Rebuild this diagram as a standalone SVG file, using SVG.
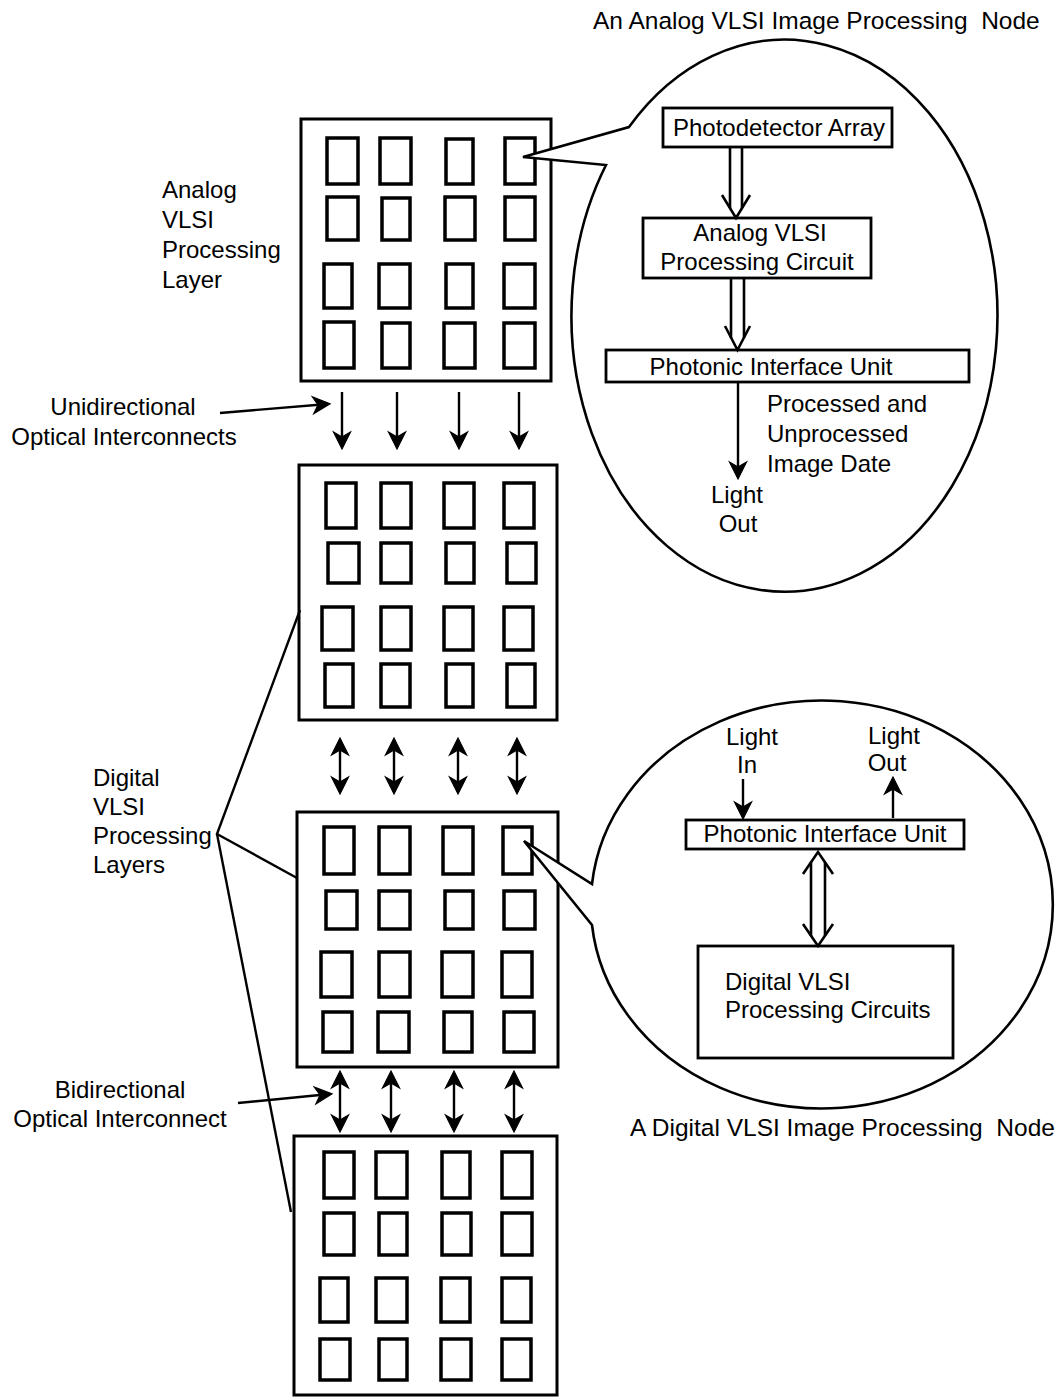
<svg xmlns="http://www.w3.org/2000/svg" width="1057" height="1398" viewBox="0 0 1057 1398">
<style>
text{font-family:"Liberation Sans",Arial,sans-serif;font-size:24px;fill:#000}
.c{text-anchor:middle}
.t{font-size:24.5px}
.layer{fill:none;stroke:#000;stroke-width:3}
.cell{fill:none;stroke:#000;stroke-width:3.5}
.box{fill:none;stroke:#000;stroke-width:2.8}
.bub{fill:#fff;stroke:#000;stroke-width:2.6;stroke-linejoin:miter}
.ln{fill:none;stroke:#000;stroke-width:2.4}
.arr{fill:none;stroke:#000;stroke-width:2.4;marker-end:url(#ah)}
.bi{fill:none;stroke:#000;stroke-width:2.4;marker-start:url(#ah);marker-end:url(#ah)}
.hol{fill:none;stroke:#000;stroke-width:2.6}
</style>
<defs>
<marker id="ah" markerUnits="userSpaceOnUse" viewBox="-19 -11 23 22" refX="0" refY="0" markerWidth="23" markerHeight="22" orient="auto-start-reverse">
<path d="M2,0 L-15,-8.5 L-10,0 L-15,8.5 Z" fill="#000" stroke="#000" stroke-width="1.2" stroke-linejoin="miter"/>
</marker>
</defs>

<g id="analog-layer">
<rect class="layer" x="301" y="119" width="250" height="262"/>
<rect class="cell" x="327" y="138" width="31" height="46"/><rect class="cell" x="380" y="138" width="31" height="46"/><rect class="cell" x="446" y="139" width="27" height="45"/><rect class="cell" x="505" y="138" width="30" height="46"/>
<rect class="cell" x="327" y="197" width="31" height="43"/><rect class="cell" x="382" y="198" width="28" height="42"/><rect class="cell" x="445" y="197" width="30" height="43"/><rect class="cell" x="505" y="197" width="30" height="43"/>
<rect class="cell" x="324" y="264" width="28" height="44"/><rect class="cell" x="379" y="264" width="31" height="44"/><rect class="cell" x="446" y="264" width="27" height="44"/><rect class="cell" x="504" y="264" width="31" height="44"/>
<rect class="cell" x="324" y="322" width="30" height="46"/><rect class="cell" x="382" y="323" width="28" height="45"/><rect class="cell" x="444" y="323" width="31" height="45"/><rect class="cell" x="504" y="323" width="31" height="45"/>
</g>

<g id="digital-layer-1">
<rect class="layer" x="299" y="465" width="258" height="255"/>
<rect class="cell" x="326" y="483" width="30" height="45"/><rect class="cell" x="381" y="483" width="30" height="45"/><rect class="cell" x="444" y="483" width="30" height="45"/><rect class="cell" x="504" y="483" width="30" height="45"/>
<rect class="cell" x="328" y="543" width="31" height="40"/><rect class="cell" x="381" y="543" width="30" height="40"/><rect class="cell" x="446" y="543" width="28" height="40"/><rect class="cell" x="507" y="543" width="29" height="40"/>
<rect class="cell" x="322" y="607" width="31" height="43"/><rect class="cell" x="381" y="607" width="30" height="43"/><rect class="cell" x="444" y="607" width="29" height="43"/><rect class="cell" x="504" y="607" width="29" height="43"/>
<rect class="cell" x="325" y="664" width="28" height="43"/><rect class="cell" x="381" y="664" width="29" height="43"/><rect class="cell" x="446" y="664" width="27" height="43"/><rect class="cell" x="507" y="664" width="28" height="43"/>
</g>

<g id="digital-layer-2">
<rect class="layer" x="297" y="812" width="261" height="255"/>
<rect class="cell" x="324" y="827" width="30" height="47"/><rect class="cell" x="379" y="827" width="31" height="47"/><rect class="cell" x="443" y="827" width="30" height="47"/><rect class="cell" x="503" y="827" width="29" height="47"/>
<rect class="cell" x="326" y="891" width="31" height="38"/><rect class="cell" x="379" y="891" width="31" height="38"/><rect class="cell" x="445" y="891" width="28" height="38"/><rect class="cell" x="504" y="891" width="31" height="38"/>
<rect class="cell" x="321" y="952" width="31" height="45"/><rect class="cell" x="379" y="952" width="31" height="45"/><rect class="cell" x="442" y="952" width="31" height="45"/><rect class="cell" x="502" y="952" width="30" height="45"/>
<rect class="cell" x="323" y="1012" width="29" height="40"/><rect class="cell" x="378" y="1012" width="31" height="40"/><rect class="cell" x="444" y="1012" width="28" height="40"/><rect class="cell" x="504" y="1012" width="30" height="40"/>
</g>

<g id="digital-layer-3">
<rect class="layer" x="294" y="1136" width="263" height="259"/>
<rect class="cell" x="324" y="1152" width="30" height="46"/><rect class="cell" x="376" y="1152" width="31" height="46"/><rect class="cell" x="442" y="1152" width="28" height="46"/><rect class="cell" x="502" y="1152" width="30" height="46"/>
<rect class="cell" x="324" y="1213" width="30" height="42"/><rect class="cell" x="379" y="1213" width="28" height="42"/><rect class="cell" x="442" y="1213" width="29" height="42"/><rect class="cell" x="502" y="1213" width="30" height="42"/>
<rect class="cell" x="320" y="1278" width="28" height="44"/><rect class="cell" x="376" y="1278" width="31" height="44"/><rect class="cell" x="441" y="1278" width="29" height="44"/><rect class="cell" x="502" y="1278" width="29" height="44"/>
<rect class="cell" x="320" y="1339" width="30" height="41"/><rect class="cell" x="379" y="1339" width="28" height="41"/><rect class="cell" x="441" y="1339" width="30" height="41"/><rect class="cell" x="502" y="1339" width="29" height="41"/>
</g>

<g id="analog-node">
<path class="bub" d="M629,127 A213,276 0 1 1 606,165 L523,157 Z"/>
<text class="t" x="593" y="29" xml:space="preserve">An Analog VLSI Image Processing  Node</text>
<rect class="box" x="663" y="108" width="229" height="39"/>
<text class="c" x="779" y="136">Photodetector Array</text>
<rect class="box" x="643" y="218" width="228" height="60"/>
<text class="c" x="760" y="241">Analog VLSI</text>
<text class="c" x="757" y="270">Processing Circuit</text>
<rect class="box" x="606" y="350" width="363" height="32"/>
<text class="c" x="771" y="375">Photonic Interface Unit</text>
<text x="767" y="412">Processed and</text>
<text x="767" y="442">Unprocessed</text>
<text x="767" y="472">Image Date</text>
<text class="c" x="737" y="503">Light</text>
<text class="c" x="738" y="532">Out</text>
</g>

<g id="digital-node">
<path class="bub" d="M592,884 A231,204 0 1 1 592,925 L524,841 Z"/>
<rect class="box" x="686" y="820" width="278" height="29"/>
<text class="c" x="825" y="842">Photonic Interface Unit</text>
<rect class="box" x="698" y="946" width="255" height="112"/>
<text x="725" y="990">Digital VLSI</text>
<text x="725" y="1018">Processing Circuits</text>
<text class="c" x="752" y="745">Light</text>
<text class="c" x="747" y="773">In</text>
<text class="c" x="894" y="744">Light</text>
<text class="c" x="887" y="771">Out</text>
<text class="t" x="630" y="1136" xml:space="preserve">A Digital VLSI Image Processing  Node</text>
</g>

<g id="labels">
<text x="162" y="198">Analog</text>
<text x="162" y="228">VLSI</text>
<text x="162" y="258">Processing</text>
<text x="162" y="288">Layer</text>
<text class="c" x="123" y="415">Unidirectional</text>
<text class="c" x="124" y="445">Optical Interconnects</text>
<text x="93" y="786">Digital</text>
<text x="93" y="815">VLSI</text>
<text x="93" y="844">Processing</text>
<text x="93" y="873">Layers</text>
<text class="c" x="120" y="1098">Bidirectional</text>
<text class="c" x="120" y="1127">Optical Interconnect</text>
</g>

<g id="connectors">
<line class="arr" x1="342" y1="392" x2="342" y2="447"/>
<line class="arr" x1="397" y1="392" x2="397" y2="447"/>
<line class="arr" x1="459" y1="392" x2="459" y2="447"/>
<line class="arr" x1="519" y1="392" x2="519" y2="447"/>
<line class="arr" x1="220" y1="413" x2="328" y2="404"/>
<line class="bi" x1="340" y1="740" x2="340" y2="792"/>
<line class="bi" x1="394" y1="740" x2="394" y2="792"/>
<line class="bi" x1="458" y1="740" x2="458" y2="792"/>
<line class="bi" x1="517" y1="740" x2="517" y2="792"/>
<line class="bi" x1="340" y1="1073" x2="340" y2="1130"/>
<line class="bi" x1="391" y1="1073" x2="391" y2="1130"/>
<line class="bi" x1="454" y1="1073" x2="454" y2="1130"/>
<line class="bi" x1="514" y1="1073" x2="514" y2="1130"/>
<line class="arr" x1="238" y1="1103" x2="330" y2="1094"/>
<polyline class="ln" points="300,610 217,834 297,878"/>
<line class="ln" x1="217" y1="834" x2="291" y2="1212"/>
<line class="hol" x1="730" y1="147" x2="730" y2="208"/>
<line class="hol" x1="742" y1="147" x2="742" y2="208"/>
<polyline class="hol" points="722,195 736,218 750,195"/>
<line class="hol" x1="731" y1="278" x2="731" y2="338"/>
<line class="hol" x1="744" y1="278" x2="744" y2="338"/>
<polyline class="hol" points="725,326 737.5,350 750,326"/>
<line class="arr" x1="738" y1="382" x2="738" y2="477"/>
<line class="arr" x1="743" y1="779" x2="743" y2="817"/>
<line class="arr" x1="893" y1="818" x2="893" y2="779"/>
<line class="hol" x1="811" y1="862" x2="811" y2="936"/>
<line class="hol" x1="825" y1="862" x2="825" y2="936"/>
<polyline class="hol" points="803,874 818,852 833,874"/>
<polyline class="hol" points="803,924 818,946 833,924"/>
</g>
</svg>
